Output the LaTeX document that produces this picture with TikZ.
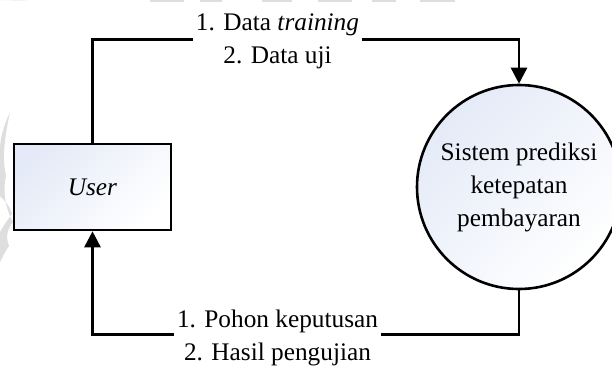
\documentclass[tikz,border=0pt]{standalone}
\usepackage{fontspec}
\setmainfont{Liberation Serif}
\usetikzlibrary{arrows.meta}

\definecolor{shadeblue}{HTML}{E4EAF7}
\definecolor{markgray}{HTML}{DEDEDE}

\tikzset{
  flow/.style={line width=2.6pt, line cap=butt, line join=miter},
  flowarrow/.style={flow, -{Triangle[width=16pt,length=16pt]}},
  entitybox/.style={draw, line width=2.6pt, minimum width=157pt, minimum height=86pt,
    shading=axis, top color=shadeblue, bottom color=white, shading angle=45,
    inner sep=0pt},
  processcircle/.style={draw, circle, line width=2.6pt, minimum size=204pt,
    shading=axis, top color=shadeblue, bottom color=white, shading angle=45,
    align=center, inner sep=0pt},
  flowlabel/.style={align=center, inner xsep=3pt, inner ysep=0pt},
}

\begin{document}
\begin{tikzpicture}[x=1pt, y=-1pt, font=\fontsize{25.3}{33}\selectfont]
  \useasboundingbox (0,0) rectangle (612,365);

  % faint background mark
  \fill[markgray] (0,0) .. controls (10,0) and (20,1) .. (28,0) -- (0,0) -- cycle;
  \fill[markgray] (150,0) rectangle (184,2);
  \fill[markgray] (200,0) rectangle (222,2);
  \fill[markgray] (262,0) rectangle (292,2);
  \fill[markgray] (318,0) rectangle (352,2);
  \fill[markgray] (372,0) rectangle (396,2);
  \fill[markgray] (420,0) rectangle (455,2);
  \fill[markgray] (10,112) .. controls (4,125) and (0,138) .. (0,150)
    -- (0,196) .. controls (4,200) and (10,206) .. (12,214)
    .. controls (6,222) and (2,228) .. (0,232) -- (0,262)
    .. controls (3,256) and (6,250) .. (9,246)
    .. controls (5,236) and (8,228) .. (13,222)
    .. controls (4,205) and (3,190) .. (6,175)
    .. controls (2,160) and (4,140) .. (10,112) -- cycle;

  % entities
  \node[entitybox] (user) at (92.5,187) {\textit{User}};
  \node[processcircle] (sys) at (519,187)
    {Sistem prediksi\\ketepatan\\pembayaran};

  % flow labels
  \node[flowlabel] (in) at (277.5,41) {1. Data \textit{training}\\2. Data uji};
  \node[flowlabel] (out) at (277.5,337.5) {1. Pohon keputusan\\2. Hasil pengujian};

  \coordinate (topline) at (0,39.5);
  \coordinate (botline) at (0,334.5);

  % data flows
  \draw[flow] (user.north) -- (user.north |- topline) -- (in.west |- topline);
  \draw[flowarrow] (in.east |- topline) -| (sys.north);
  \draw[flow] (sys.south) -- (sys.south |- botline) -- (out.east |- botline);
  \draw[flowarrow] (out.west |- botline) -| (user.south);
\end{tikzpicture}
\end{document}
